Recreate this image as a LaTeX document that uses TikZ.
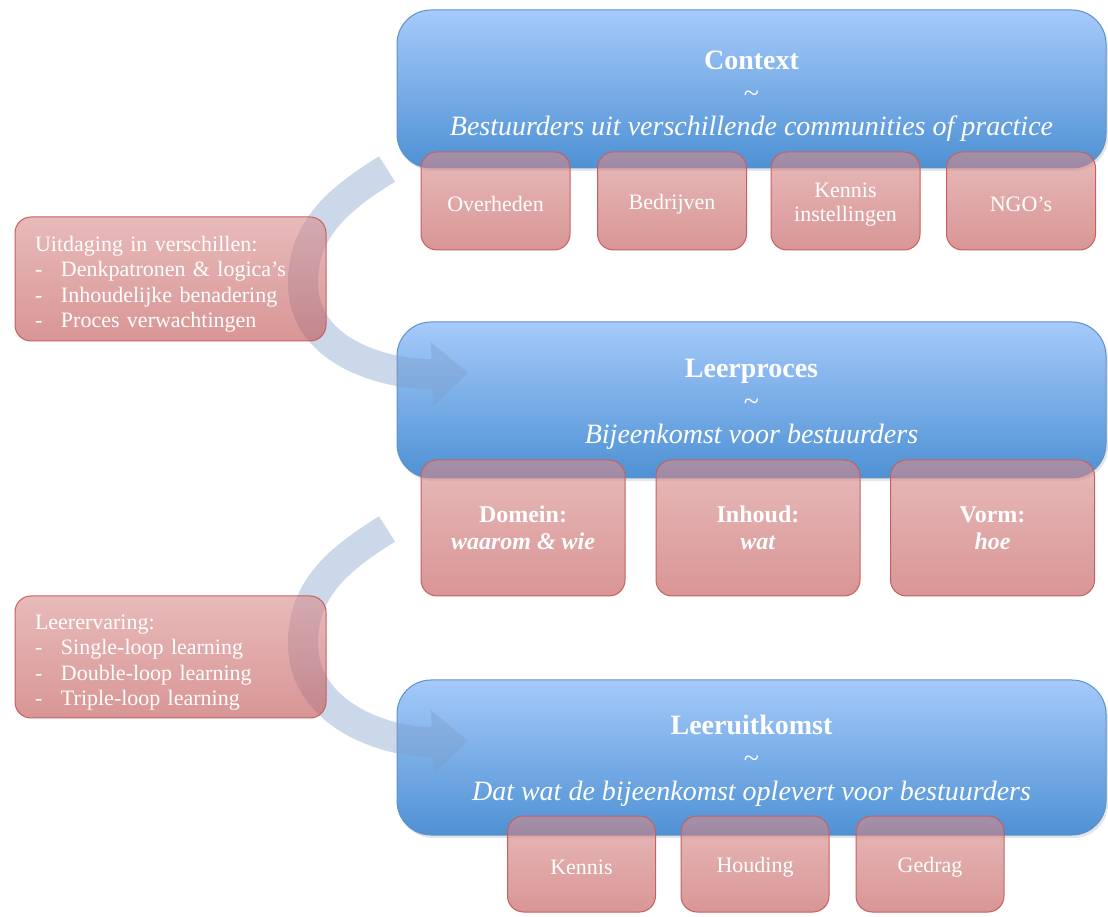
\documentclass[tikz,border=0pt]{standalone}
\usepackage{fontspec}
\setmainfont{Liberation Serif}
\usetikzlibrary{arrows.meta,shadows}

\definecolor{bluetop}{RGB}{165,202,250}
\definecolor{bluebot}{RGB}{78,145,212}
\definecolor{blueline}{RGB}{95,145,205}
\definecolor{redtop}{RGB}{217,140,140}
\definecolor{redbot}{RGB}{192,80,80}
\definecolor{redline}{RGB}{200,95,95}
\definecolor{arcblue}{RGB}{125,158,200}

\begin{document}
\begin{tikzpicture}[x=1pt,y=1pt]
            \tikzset{layer/.style = {draw=blueline, line width=1pt, rounded corners=34pt,
                top color=bluetop, bottom color=bluebot, text=white, align=center,
                minimum width=709pt, inner sep=0pt, font=\fontsize{28}{33}\selectfont,
                drop shadow={opacity=0.2, shadow xshift=2pt, shadow yshift=-3pt}}}
            \tikzset{part/.style = {draw=redline, line width=1pt, rounded corners=16pt,
                top color=redtop, bottom color=redbot, fill opacity=0.6, text opacity=1,
                text=white, align=center, inner sep=0pt, font=\fontsize{22}{24}\selectfont}}
            \tikzset{note/.style = {part, align=left, text width=271pt, inner xsep=20pt,
                minimum width=311pt, font=\fontsize{22}{25.5}\selectfont}}
            \tikzset{loop arrow/.style = {line width=30pt, arcblue, -{Triangle[length=36pt,width=62pt]}}}
            \newcommand{\dashitem}[1]{\makebox[26pt][l]{-}#1}
            \newcommand{\pushdown}[1]{\rule{0pt}{#1}}

            \fill[white] (0,0) rectangle (1108,916);
            \useasboundingbox (0,0) rectangle (1108,916);

            % layers
            \node[layer, minimum height=158pt] (context) at (751.5,827)
              {\pushdown{32pt}\textbf{Context}\\\textasciitilde\\\textit{Bestuurders uit verschillende communities of practice}};
            \node[layer, minimum height=156pt] (leerproces) at (751.5,516)
              {\pushdown{26pt}\textbf{Leerproces}\\\textasciitilde\\\textit{Bijeenkomst voor bestuurders}};
            \node[layer, minimum height=155pt] (leeruitkomst) at (751.5,158.5)
              {\pushdown{26pt}\textbf{Leeruitkomst}\\\textasciitilde\\\textit{Dat wat de bijeenkomst oplevert voor bestuurders}};

            % loops
            \coordinate (top1) at (387,747);
            \coordinate (left1) at (303,633);
            \coordinate (tip1) at (468,543);
            \coordinate (top2) at (387,387);
            \coordinate (left2) at (303,273);
            \coordinate (tip2) at (468,175);
            \begin{scope}[transparency group, opacity=0.4]
              \draw[loop arrow] (top1) to[out=212,in=90] (left1) to[out=270,in=182] (tip1);
              \draw[loop arrow] (top2) to[out=212,in=90] (left2) to[out=270,in=182] (tip2);
            \end{scope}

            % parts
            \foreach \name/\x/\txt in {overheden/495.5/Overheden, bedrijven/672/Bedrijven,
                kennisinst/845.5/{\pushdown{22pt}Kennis\\instellingen}, ngos/1021/NGO's}
            {
              \node[part, minimum width=149pt, minimum height=98pt] (\name) at (\x,715) {\pushdown{22pt}\txt};
            }
            \foreach \name/\x/\kop/\txt in {domein/523/Domein/waarom \& wie,
                inhoud/758/Inhoud/wat, vorm/992.5/Vorm/hoe}
            {
              \node[part, minimum width=204pt, minimum height=136pt, font=\fontsize{24}{27}\selectfont\bfseries]
                (\name) at (\x,388) {\kop:\\\textit{\txt}};
            }
            \foreach \name/\x/\txt in {kennis/581.5/Kennis, houding/755/Houding, gedrag/930/Gedrag}
            {
              \node[part, minimum width=148pt, minimum height=96pt] (\name) at (\x,52) {\pushdown{22pt}\txt};
            }

            % notes
            \node[note, minimum height=124pt] (uitdaging) at (170.5,637)
              {\pushdown{26pt}Uitdaging in verschillen:\\\dashitem{Denkpatronen \& logica's}\\
               \dashitem{Inhoudelijke benadering}\\\dashitem{Proces verwachtingen}};
            \node[note, minimum height=122pt] (ervaring) at (170.5,259)
              {\pushdown{26pt}Leerervaring:\\\dashitem{Single-loop learning}\\
               \dashitem{Double-loop learning}\\\dashitem{Triple-loop learning}};

\end{tikzpicture}
\end{document}
